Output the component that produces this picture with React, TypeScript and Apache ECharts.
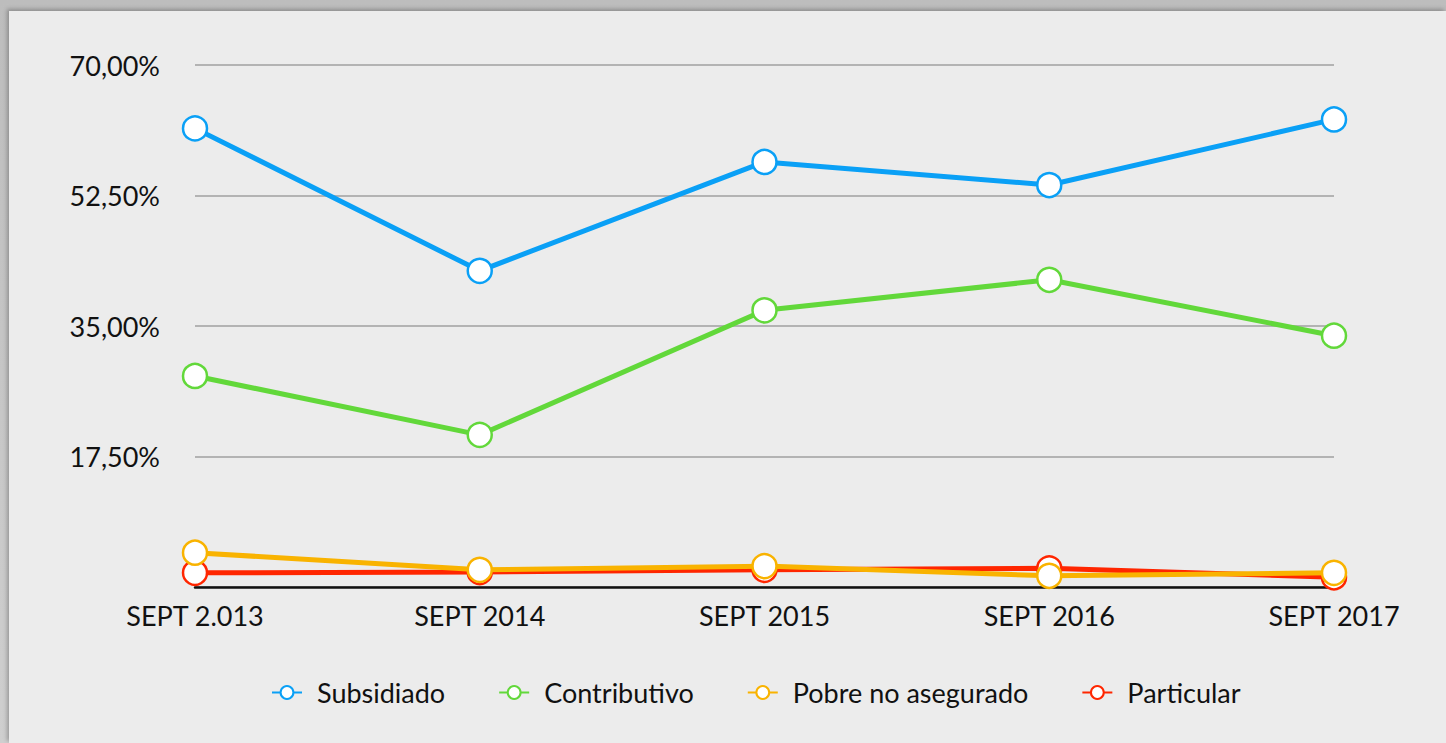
import React, { useEffect, useRef } from "react";
import * as echarts from "echarts";

const categories = ["SEPT 2.013", "SEPT 2014", "SEPT 2015", "SEPT 2016", "SEPT 2017"];
const subsidiado = [61.5, 42.4, 57.0, 53.9, 62.7];
const contributivo = [28.3, 20.4, 37.1, 41.2, 33.7];
const pobreNoAsegurado = [4.6, 2.3, 2.8, 1.5, 1.9];
const particular = [1.9, 2.0, 2.3, 2.5, 1.3];
const seriesNames = ["Subsidiado", "Contributivo", "Pobre no asegurado", "Particular"];

const FONT = "Lato, 'Open Sans', sans-serif";

export default function App() {
  const ref = useRef<HTMLDivElement>(null);
  useEffect(() => {
    if (!ref.current) return;
    const chart = echarts.init(ref.current, undefined, { renderer: "svg" });
    const mk = (name: string, data: number[], color: string, z: number) => ({
      name,
      type: "line",
      data,
      z,
      color,
      symbol: "circle",
      symbolSize: 24,
      lineStyle: { color, width: 5 },
      itemStyle: { color: "#ffffff", borderColor: color, borderWidth: 2.5 },
      emphasis: { disabled: true },
    });
    chart.setOption({
      animation: false,
      backgroundColor: "transparent",
      textStyle: { fontFamily: FONT },
      grid: { left: 186, right: 112, top: 54, bottom: 156, containLabel: false },
      legend: {
        data: seriesNames,
        top: 663,
        left: 257,
        itemGap: 53,
        itemWidth: 30,
        itemHeight: 16,
        textStyle: { fontSize: 27, color: "#111", fontFamily: FONT, padding: [0, 0, 0, 10] },
      },
      xAxis: {
        type: "category",
        data: categories,
        boundaryGap: false,
        axisLine: { lineStyle: { color: "#111", width: 2.5 } },
        axisTick: { show: false },
        axisLabel: { fontSize: 27, color: "#111", margin: 15, fontFamily: FONT },
      },
      yAxis: {
        type: "value",
        min: 0,
        max: 70,
        interval: 17.5,
        axisLine: { show: false },
        axisTick: { show: false },
        splitLine: { lineStyle: { color: "#b3b3b3", width: 2 } },
        axisLabel: {
          fontSize: 27,
          color: "#111",
          margin: 35,
          fontFamily: FONT,
          formatter: (v: number) => (v === 0 ? "" : v.toFixed(2).replace(".", ",") + "%"),
        },
      },
      series: [
        mk("Subsidiado", subsidiado, "#0aa0f6", 4),
        mk("Contributivo", contributivo, "#62d83a", 4),
        mk("Particular", particular, "#ff2600", 3),
        mk("Pobre no asegurado", pobreNoAsegurado, "#f9b300", 5),
      ],
    });
    return () => chart.dispose();
  }, []);
  return (
    <div
      style={{
        position: "fixed",
        left: 0,
        top: 0,
        width: 1446,
        height: 743,
        background: "linear-gradient(#bdbdbd, #cfcfcf)",
        overflow: "hidden",
      }}
    >
      <div
        style={{
          position: "absolute",
          left: 9,
          top: 11,
          width: 1437,
          height: 732,
          background: "#ececec",
          boxShadow: "-2px -2px 4px rgba(0,0,0,0.25)",
        }}
      >
        <div ref={ref} style={{ width: 1437, height: 732 }} />
      </div>
    </div>
  );
}
